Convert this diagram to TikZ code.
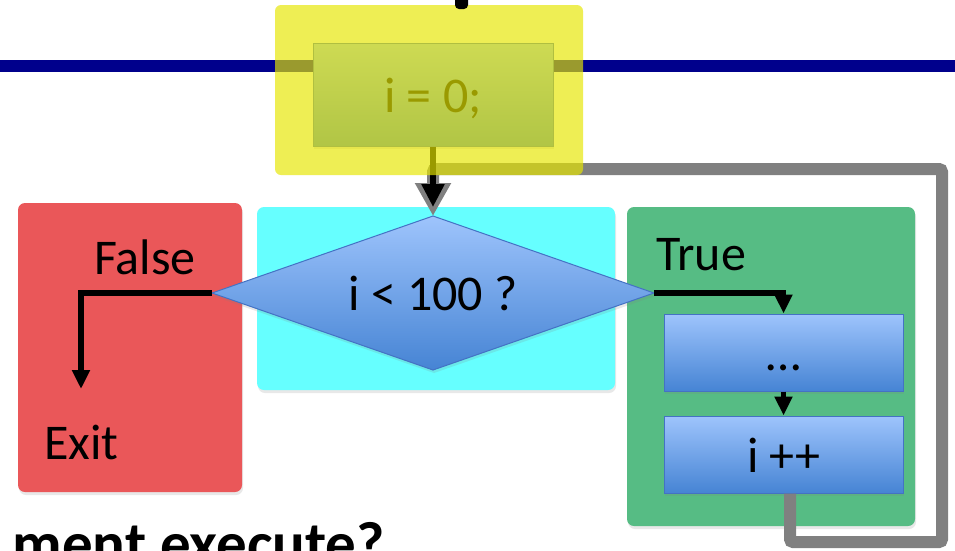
\documentclass[tikz,border=0pt]{standalone}
\usepackage{fontspec}
\setmainfont{Carlito}
\usetikzlibrary{arrows.meta,shapes.geometric,shadows}
\definecolor{regionred}{RGB}{234,87,89}
\definecolor{regioncyan}{RGB}{102,255,255}
\definecolor{regiongreen}{RGB}{86,188,132}
\definecolor{overlayyellow}{RGB}{230,230,0}
\definecolor{boxtop}{RGB}{158,196,252}
\definecolor{boxbottom}{RGB}{70,132,212}
\definecolor{boxedge}{RGB}{68,114,196}
\definecolor{rulenavy}{RGB}{0,0,140}
\definecolor{loopgray}{RGB}{128,128,128}
\begin{document}
\begin{tikzpicture}[x=1pt,y=-1pt,
  region/.style={rectangle, rounded corners=7pt, inner sep=0pt,
    drop shadow={opacity=0.18, shadow xshift=1pt, shadow yshift=-3pt}},
  stepbox/.style={rectangle, draw=boxedge, line width=1pt,
    top color=boxtop, bottom color=boxbottom, inner sep=0pt,
    text height=35pt, text depth=0pt, font=\fontsize{50}{58}\selectfont,
    drop shadow={opacity=0.18, shadow xshift=1pt, shadow yshift=-3pt}},
  lbl/.style={font=\fontsize{50}{58}\selectfont, inner sep=0pt, anchor=base west},
  flow/.style={line width=5.5pt, -{Triangle[width=17pt,length=19pt]}},
]
\clip (0,0) rectangle (955,550);
\fill[white] (0,0) rectangle (955,550);

% coloured regions
\node[region, fill=regionred, minimum width=224pt, minimum height=289pt] (falsebg) at (130,347.5) {};
\node[region, fill=regioncyan, minimum width=358pt, minimum height=183pt] (condbg) at (436,298.5) {};
\node[region, fill=regiongreen, minimum width=288pt, minimum height=319pt] (truebg) at (771,366.5) {};

% decision and loop body
\node[stepbox, shape=diamond, shape aspect=2.87, outer sep=0pt,
  minimum width=442pt, minimum height=154pt] (cond) at (433,293) {i < 100 ?};
\node[stepbox, minimum width=239pt, minimum height=77pt] (dots) at (783.5,352.5) {\ldots};
\node[stepbox, minimum width=239pt, minimum height=77pt] (inc) at (783.5,454.5) {i ++};

% branch labels
\node[lbl] (falselbl) at (94,274) {False};
\node[lbl] (truelbl) at (656,270) {True};
\node[lbl] (exitlbl) at (44,459) {Exit};

% branches
\coordinate (exittip) at (81,389);
\draw[flow] (cond.west) -| (exittip);
\draw[flow] (cond.east) -| (dots.north);
\draw[flow] (dots.south) -- (inc.north);

% horizontal rule
\coordinate (ruleL) at (0,66);
\coordinate (ruleR) at (955,66);
\draw[rulenavy, line width=12pt] (ruleL) -- (ruleR);

% initialisation
\node[stepbox, minimum width=240pt, minimum height=103pt] (init) at (433,94.5) {i = 0;};

% loop back from the increment to the test
\coordinate (loopBR) at (942,542);
\coordinate (loopTR) at (942,169);
\draw[loopgray, line width=12pt, rounded corners=3pt, -{Triangle[width=34pt,length=33pt]}]
  ([xshift=6.5pt]inc.south) |- (loopBR) -- (loopTR) -| (cond.north);
\draw[line width=5.5pt, -{Triangle[width=22pt,length=23pt]}, shorten >=9pt] (init.south) -- (cond.north);

% translucent highlight over the initialisation
\node[rectangle, rounded corners=6pt, fill=overlayyellow, fill opacity=0.67,
  minimum width=308pt, minimum height=170pt, inner sep=0pt] (initbg) at (429,90) {};

% cut-off title stroke and question text
\fill[rounded corners=4pt] (455,-8) rectangle (468,9);
\node[font=\fontsize{61}{70}\selectfont\bfseries, anchor=base east, inner sep=0pt] (question) at (385,564) {ment execute?};
\end{tikzpicture}
\end{document}
